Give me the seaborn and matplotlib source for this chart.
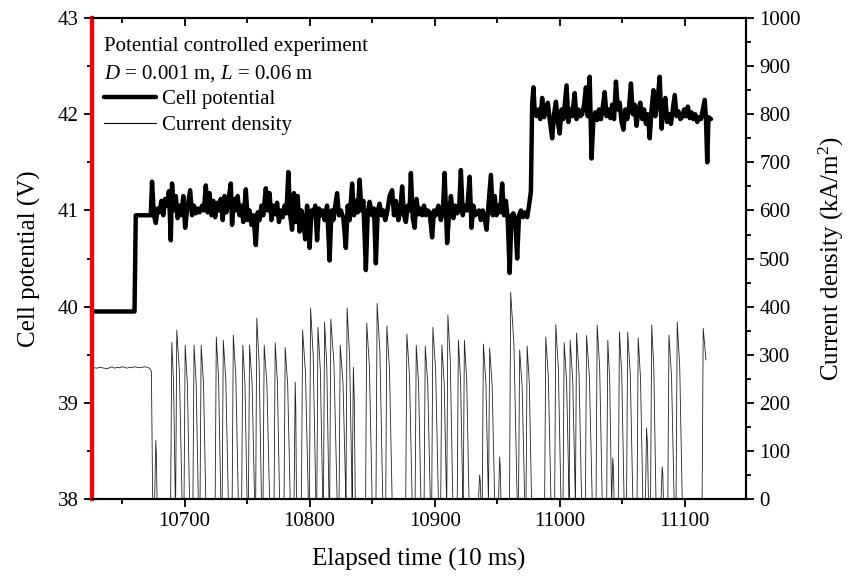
import matplotlib
matplotlib.use("Agg")
import matplotlib.pyplot as plt
import seaborn as sns
import pandas as pd
from matplotlib.lines import Line2D
from matplotlib.ticker import MultipleLocator

# ---------------- data ----------------
pot_t = [10626, 10660, 10661, 10673,
         10674, 10675.5, 10677, 10678.5, 10680, 10681.5, 10683, 10684.5, 10686, 10687.5,
         10689, 10690, 10691.5, 10693, 10694.5, 10696, 10697.5, 10699, 10700.5, 10702,
         10704.5, 10706, 10707.5, 10709, 10710.5, 10712, 10714, 10715.5, 10717, 10718.5,
         10720, 10721.5, 10723, 10724.5, 10726, 10727.5, 10729, 10730.5, 10732, 10733.5,
         10735, 10737, 10738, 10739.5, 10741, 10742.5, 10744, 10745.5, 10747, 10749,
         10750.5, 10752, 10753.5, 10755, 10757, 10758.5, 10760, 10761.5, 10763, 10765,
         10766.5, 10768, 10769.5, 10771, 10772.5, 10774, 10775.5, 10777, 10778.5, 10780,
         10781.5, 10783, 10784.5, 10786, 10787.5, 10789, 10790.5, 10792, 10793.5, 10795,
         10796.5, 10798, 10800, 10801.5, 10803, 10804.5, 10806, 10807.5, 10809, 10810.5,
         10812, 10814, 10816, 10817.5, 10819, 10820.5, 10822, 10823.5, 10825, 10827,
         10829, 10830.5, 10832, 10834, 10835.5, 10837, 10838.5, 10840, 10841.5, 10843,
         10845, 10846.5, 10848, 10850, 10851.5, 10853, 10854.5, 10856, 10857.5, 10859,
         10860.5, 10862, 10864, 10866, 10867.5, 10869, 10871, 10872.5, 10874, 10875.5,
         10877, 10878.5, 10880, 10881, 10882.5, 10884, 10885.5, 10887, 10888.5, 10890,
         10891.5, 10893, 10894.5, 10896, 10898, 10899.5, 10901, 10903, 10905, 10906.5,
         10908, 10910, 10911.5, 10913, 10915, 10916.5, 10918, 10919.5, 10921, 10922.5,
         10924, 10926, 10928, 10929.5, 10931, 10932.5, 10934, 10935.5, 10937, 10938.5,
         10940, 10941.5, 10943, 10945, 10946.5, 10948, 10949.5, 10951, 10952.5, 10954,
         10955.5, 10957, 10958.5, 10960, 10961.5, 10963, 10964.5, 10966, 10967.5, 10969,
         10970.5, 10972, 10974, 10975.5, 10977, 10978, 10979,
         10980, 10981.5, 10983, 10984.5, 10986, 10987.5, 10989, 10990.5, 10992, 10994,
         10995.5, 10997, 10998.5, 11000, 11001.5, 11003, 11005.5, 11007, 11008.5, 11010,
         11012, 11013.5, 11015, 11016.5, 11018, 11019.5, 11021, 11022.5, 11024, 11025.5,
         11027, 11028.5, 11030, 11031.5, 11033, 11034.5, 11036, 11037.5, 11039, 11040.5,
         11042, 11043.5, 11045, 11046.5, 11048, 11049.5, 11051, 11052.5, 11054, 11055.5,
         11057, 11058.5, 11060, 11061.5, 11063, 11064.5, 11066, 11067.5, 11069, 11070.5,
         11072, 11073.5, 11075, 11076.5, 11078, 11080, 11081.5, 11083, 11084.5, 11086,
         11087.5, 11089, 11090.5, 11092, 11093.5, 11095, 11096.5, 11098, 11099.5, 11101,
         11102.5, 11104, 11105.5, 11107, 11108.5, 11110, 11111.5, 11113, 11114.5, 11116,
         11117, 11118, 11119, 11121]
pot_v = [39.95, 39.95, 40.95, 40.95,
         41.30, 40.95, 40.87, 41.02, 40.98, 41.10, 40.95, 41.12, 41.05, 41.20,
         40.69, 41.28, 41.00, 41.15, 40.92, 41.05, 40.95, 41.15, 40.82, 41.00,
         41.21, 40.95, 41.05, 40.97, 41.02, 40.98, 41.05, 41.00, 41.26, 40.98,
         41.18, 40.95, 41.10, 40.93, 41.08, 41.00, 41.12, 40.90, 41.15, 40.98,
         41.10, 41.28, 40.85, 41.12, 41.00, 41.15, 40.95, 41.05, 40.88, 41.22,
         40.90, 41.00, 40.85, 40.95, 40.64, 40.98, 40.90, 41.05, 40.95, 41.23,
         41.00, 41.18, 40.90, 41.05, 40.96, 41.08, 40.88, 41.00, 40.93, 41.05,
         40.97, 41.40, 40.95, 40.80, 41.18, 40.88, 41.15, 40.78, 41.00, 40.90,
         40.70, 41.05, 40.61, 41.00, 40.95, 41.05, 40.69, 41.02, 40.95, 41.00,
         40.90, 41.05, 40.48, 41.00, 40.90, 41.05, 41.18, 40.95, 41.00, 40.92,
         40.61, 41.05, 40.90, 41.28, 40.95, 41.10, 40.98, 41.32, 41.00, 41.10,
         40.38, 40.98, 41.09, 40.95, 41.02, 40.45, 41.00, 41.07, 40.95, 41.00,
         40.90, 40.98, 41.15, 41.21, 40.95, 41.10, 40.90, 41.00, 41.25, 40.95,
         40.88, 41.05, 41.00, 41.39, 40.92, 40.82, 41.12, 40.96, 41.02, 40.95,
         41.05, 40.95, 41.00, 40.98, 40.72, 41.00, 40.95, 41.05, 40.90, 40.98,
         41.39, 40.66, 40.95, 41.15, 40.92, 41.05, 40.97, 41.00, 41.42, 40.95,
         41.05, 41.00, 41.35, 40.82, 41.05, 40.95, 40.98, 41.00, 40.90, 41.00,
         40.92, 40.80, 41.05, 41.37, 40.95, 41.15, 40.95, 41.05, 40.98, 41.28,
         40.95, 41.10, 40.90, 40.35, 40.95, 40.97, 40.90, 40.50, 40.95, 41.00,
         40.93, 40.98, 40.93, 41.05, 41.20, 42.10, 42.28,
         42.04, 41.98, 42.05, 41.95, 42.17, 41.97, 42.05, 42.12, 41.95, 41.75,
         42.00, 42.13, 41.92, 41.80, 42.05, 41.95, 42.30, 41.92, 42.05, 41.98,
         42.22, 41.95, 42.05, 41.98, 42.00, 42.10, 42.28, 41.98, 42.39, 41.54,
         41.95, 42.02, 41.94, 42.05, 41.95, 42.08, 42.23, 41.98, 42.05, 41.96,
         42.10, 41.95, 42.34, 42.05, 42.12, 41.92, 41.84, 42.05, 41.95, 42.08,
         42.32, 42.00, 42.10, 41.88, 42.05, 42.12, 41.95, 42.05, 41.90, 42.00,
         41.75, 42.05, 42.25, 41.98, 42.10, 42.39, 41.85, 42.05, 42.17, 41.92,
         42.00, 41.90, 42.05, 42.20, 41.98, 42.03, 41.95, 41.97, 42.05, 41.98,
         42.08, 41.96, 42.02, 41.95, 42.00, 41.92, 41.97, 41.95, 42.05, 42.15,
         41.95, 41.50, 41.97, 41.95]

# current density: steady part before pulsing
cd_flat_t = [10626, 10628, 10630, 10632, 10634, 10636, 10638, 10640, 10642, 10644,
             10646, 10648, 10650, 10652, 10654, 10656, 10658, 10660, 10662, 10664,
             10666, 10668, 10670, 10672, 10673.5]
cd_flat_v = [272, 273, 272, 274, 273, 272, 271, 273, 275, 272,
             274, 273, 275, 274, 272, 274, 273, 275, 274, 273,
             274, 275, 274, 272, 265]
# current density pulses: peak time, peak value, time back to zero
spike_t = [10677, 10689.8, 10693.8, 10700.5, 10707.6, 10713.3, 10725.4, 10731, 10739,
           10746.6, 10752, 10757.8, 10763.7, 10772.5, 10780.5, 10788.5, 10794.4, 10800.8,
           10806.7, 10812, 10817, 10824.5, 10830, 10835, 10845.7, 10854, 10861.8, 10877.8,
           10885.3, 10892.5, 10898.6, 10905.8, 10910.6, 10919, 10923.8, 10936, 10939,
           10944, 10952, 10960.8, 10968, 10974, 10988.9, 10996.9, 11003.6, 11008.4,
           11013.5, 11021.5, 11030, 11038.5, 11042.5, 11047.8, 11054.4, 11062.8, 11069.5,
           11073.6, 11082, 11087.4, 11094]
spike_v = [122, 326, 351, 320, 320, 320, 337, 330, 341,
           320, 320, 376, 320, 325, 315, 243, 351, 397,
           357, 368, 374, 320, 397, 274, 366, 407, 360, 343,
           320, 318, 357, 320, 383, 330, 330, 50, 322,
           314, 87, 430, 310, 318, 337, 362, 325, 330,
           345, 340, 362, 330, 85, 347, 347, 335, 148,
           362, 67, 341, 368]
spike_end = [10678, 10692.6, 10698, 10704, 10711, 10717, 10729, 10735, 10743,
             10750, 10756, 10761.5, 10768, 10776, 10784.5, 10789.5, 10799, 10805,
             10810.5, 10815.5, 10822, 10829, 10834, 10836.5, 10850, 10858.5, 10866, 10882,
             10889, 10896.5, 10903, 10909.5, 10914.5, 10922.5, 10927.5, 10937, 10943,
             10948, 10953, 10966, 10972, 10977.5, 10993, 11001, 11007.5, 11012.5,
             11017.5, 11026, 11034, 11041.5, 11043.5, 11051.5, 11058.5, 11066.5, 11071,
             11077, 11083, 11091.5, 11098]
last_t = [11114.8, 11117]
last_v = [355, 289]

x_ticks = [10700, 10800, 10900, 11000, 11100]
left_ticks = [38, 39, 40, 41, 42, 43]
right_ticks = [0, 100, 200, 300, 400, 500, 600, 700, 800, 900, 1000]

# ---------------- build tables ----------------
pot_df = pd.DataFrame({"t": pot_t, "v": pot_v})
ct, cv = list(cd_flat_t), list(cd_flat_v)
ct.append(10674.5); cv.append(0)
prev_end = 10674.5
for pt, pv, et in zip(spike_t, spike_v, spike_end):
    start = max(pt - 0.9, prev_end + 0.1)
    ct += [start, pt, pt + 0.5 * (et - pt), et]
    cv += [0, pv, 0.75 * pv, 0]
    prev_end = et
ct += [last_t[0] - 0.9] + last_t
cv += [0] + last_v
cd_df = pd.DataFrame({"t": ct, "v": cv})

# ---------------- style ----------------
sns.set_theme(style="ticks")
plt.rcParams["font.family"] = ["Liberation Serif", "DejaVu Serif"]
plt.rcParams["mathtext.fontset"] = "custom"
plt.rcParams["mathtext.rm"] = "Liberation Serif"
plt.rcParams["mathtext.it"] = "Liberation Serif:italic"

fig = plt.figure(figsize=(8.48, 5.83), dpi=100, facecolor="white")
ax = fig.add_axes([0.1085, 0.144, 0.7712, 0.825])
ax2 = ax.twinx()

sns.lineplot(data=pot_df, x="t", y="v", ax=ax, color="black", linewidth=3.2,
             sort=False, estimator=None, zorder=5)
sns.lineplot(data=cd_df, x="t", y="v", ax=ax2, color="#222222", linewidth=0.6,
             sort=False, estimator=None)

ax.set_xlim(10626, 11149)
ax.set_ylim(38, 43)
ax2.set_ylim(0, 1000)

ax.set_xticks(x_ticks)
ax.xaxis.set_minor_locator(MultipleLocator(50))
ax.set_yticks(left_ticks)
ax.yaxis.set_minor_locator(MultipleLocator(0.5))
ax2.set_yticks(right_ticks)
ax2.yaxis.set_minor_locator(MultipleLocator(50))

fs = 15
ax.tick_params(axis="x", which="both", direction="out", top=False, labelsize=fs,
               width=1.3, color="black", labelcolor="black")
ax.tick_params(axis="x", which="major", length=6)
ax.tick_params(axis="x", which="minor", length=3.5)
ax.tick_params(axis="y", which="both", direction="out", labelsize=fs, width=1.3,
               color="black", labelcolor="black")
ax.tick_params(axis="y", which="major", length=6)
ax.tick_params(axis="y", which="minor", length=3.5)
ax2.tick_params(axis="y", which="both", direction="out", labelsize=fs, width=1.3,
                color="black", labelcolor="black")
ax2.tick_params(axis="y", which="major", length=6)
ax2.tick_params(axis="y", which="minor", length=3.5)

# inward ticks on top spine
secx = ax.secondary_xaxis("top")
secx.set_xticks(x_ticks)
secx.xaxis.set_minor_locator(MultipleLocator(50))
secx.tick_params(axis="x", which="both", direction="in", labeltop=False, width=1.3,
                 color="black")
secx.tick_params(axis="x", which="major", length=6)
secx.tick_params(axis="x", which="minor", length=3.5)
secx.spines["top"].set_visible(False)

for a in (ax, ax2):
    for s in a.spines.values():
        s.set_color("black")
        s.set_linewidth(1.5)
    a.spines["top"].set_visible(True)
    a.spines["right"].set_visible(True)
ax2.spines["left"].set_color("red")
ax2.spines["left"].set_linewidth(3)
ax.spines["left"].set_color("red")
ax.spines["left"].set_linewidth(3)

ax.set_xlabel("Elapsed time (10 ms)", fontsize=18, color="black", labelpad=12)
ax.set_ylabel("Cell potential (V)", fontsize=18, color="black", labelpad=12)
ax2.set_ylabel("Current density (kA/m$^2$)", fontsize=18, color="black", labelpad=12)

ax2.text(0.018, 0.94, "Potential controlled experiment", transform=ax.transAxes,
         fontsize=fs, color="black", ha="left", va="center")
ax2.text(0.018, 0.885, "$D$ = 0.001 m, $L$ = 0.06 m", transform=ax.transAxes,
         fontsize=fs, color="black", ha="left", va="center")
handles = [Line2D([], [], color="black", lw=3.2),
           Line2D([], [], color="black", lw=0.8)]
leg = ax2.legend(handles, ["Cell potential", "Current density"], loc="upper left",
                 bbox_to_anchor=(0.006, 0.868), frameon=False, fontsize=fs,
                 handlelength=2.5, handletextpad=0.25, labelspacing=0.3,
                 borderaxespad=0.0)
for t in leg.get_texts():
    t.set_color("black")

fig.savefig("out.png", dpi=100, facecolor="white")
